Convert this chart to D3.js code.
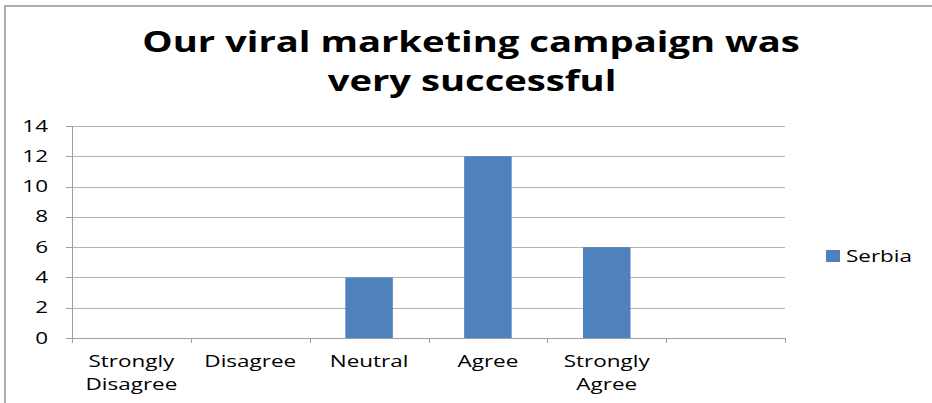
<!DOCTYPE html>
<html>
<head>
<meta charset="utf-8">
<script src="https://cdn.jsdelivr.net/npm/d3@7"></script>
<style>
  html, body { margin: 0; padding: 0; background: #ffffff; }
  svg { display: block; }
  text { font-family: "Open Sans", sans-serif; fill: #000; }
</style>
</head>
<body>
<svg id="chart" width="932" height="403"></svg>
<script>
const titleLines = ["Our viral marketing campaign was", "very successful"];
const categories = ["Strongly Disagree", "Disagree", "Neutral", "Agree", "Strongly Agree", ""];
const seriesName = "Serbia";
const values = [0, 0, 4, 12, 6, null];
const yTicks = [0, 2, 4, 6, 8, 10, 12, 14];

const SX_TITLE = 1.34; // horizontal stretch of the original rendering
const SX = 1.45;
const svg = d3.select("#chart");

// outer frame
svg.append("rect").attr("x", 5).attr("y", 6).attr("width", 940).attr("height", 420)
  .attr("fill", "#fff").attr("stroke", "#9a9a9a").attr("stroke-width", 1.6);

const plot = { left: 72, right: 785, top: 126, bottom: 338 };

const x = d3.scaleBand().domain(d3.range(categories.length))
  .range([plot.left, plot.right]).paddingInner(0.6).paddingOuter(0.3);
const xb = d3.scaleBand().domain(d3.range(categories.length))
  .range([plot.left, plot.right]);
const y = d3.scaleLinear().domain([0, 14]).range([plot.bottom, plot.top]);

function sText(g, px, py, str, size, weight, anchor, sx) {
  const t = g.append("g").attr("transform", `translate(${px},${py}) scale(${sx || SX},1)`)
    .append("text").attr("x", 0).attr("y", 0)
    .attr("font-size", size).attr("font-weight", weight || "normal")
    .attr("text-anchor", anchor || "middle").text(str);
  return t;
}

// title
const tg = svg.append("g");
sText(tg, 471, 52, titleLines[0], 28.5, "bold", "middle", SX_TITLE);
sText(tg, 472, 91, titleLines[1], 28.5, "bold", "middle", SX_TITLE);

// gridlines
svg.append("g").selectAll("line").data(yTicks.filter(d => d > 0)).join("line")
  .attr("x1", plot.left).attr("x2", plot.right)
  .attr("y1", d => Math.round(y(d)) + 0.5).attr("y2", d => Math.round(y(d)) + 0.5)
  .attr("stroke", "#b4b4b4").attr("stroke-width", 1);

// bars
svg.append("g").selectAll("rect").data(values.map((v, i) => ({ v, i })).filter(d => d.v))
  .join("rect")
  .attr("x", d => x(d.i)).attr("width", x.bandwidth())
  .attr("y", d => y(d.v)).attr("height", d => y(0) - y(d.v))
  .attr("fill", "#4f81bd");

// y axis
const ya = svg.append("g");
ya.append("line").attr("x1", plot.left + 0.5).attr("x2", plot.left + 0.5)
  .attr("y1", plot.top).attr("y2", plot.bottom).attr("stroke", "#a0a0a0");
ya.selectAll("line.t").data(yTicks).join("line").attr("class", "t")
  .attr("x1", plot.left - 6).attr("x2", plot.left)
  .attr("y1", d => Math.round(y(d)) + 0.5).attr("y2", d => Math.round(y(d)) + 0.5)
  .attr("stroke", "#a0a0a0");
yTicks.forEach(d => sText(ya, 48, y(d) + 5.5, String(d), 15.5, "normal", "end"));

// x axis
const xa = svg.append("g");
xa.append("line").attr("x1", plot.left).attr("x2", plot.right)
  .attr("y1", plot.bottom + 0.5).attr("y2", plot.bottom + 0.5).attr("stroke", "#a0a0a0");
const edges = d3.range(categories.length).map(i => xb(i)).concat([plot.right]);
xa.selectAll("line.t").data(edges).join("line").attr("class", "t")
  .attr("x1", d => Math.round(d) + 0.5).attr("x2", d => Math.round(d) + 0.5)
  .attr("y1", plot.bottom).attr("y2", plot.bottom + 5).attr("stroke", "#a0a0a0");
categories.forEach((c, i) => {
  if (!c) return;
  const cx = xb(i) + xb.bandwidth() / 2;
  const words = c.split(" ");
  words.forEach((w, j) => sText(xa, cx, 367 + j * 22.5, w, 15.5, "normal", "middle"));
});

// legend
const lg = svg.append("g");
lg.append("rect").attr("x", 826).attr("y", 250).attr("width", 14).attr("height", 12).attr("fill", "#4f81bd");
sText(lg, 846, 262, seriesName, 15.5, "normal", "start");
</script>
</body>
</html>
